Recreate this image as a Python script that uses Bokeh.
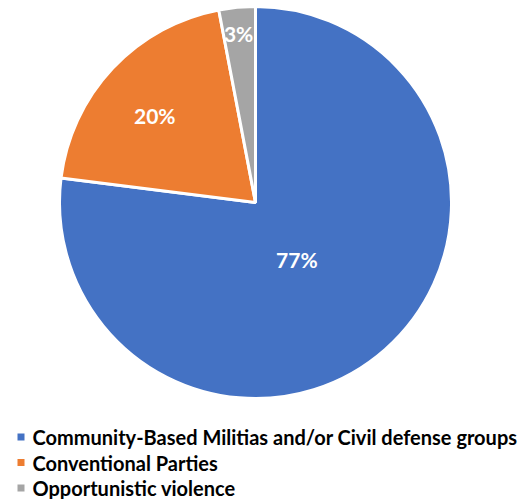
import math
from bokeh.plotting import figure
from bokeh.models import Range1d, ColumnDataSource
from bokeh.core.properties import value
from bokeh.embed import file_html
from bokeh.resources import INLINE

categories = ["Community-Based Militias and/or Civil defense groups",
              "Conventional Parties",
              "Opportunistic violence"]
shares = [77, 20, 3]
colors = ["#4472C4", "#ED7D31", "#A5A5A5"]

W, H = 524, 499
FONT = "Lato"

p = figure(width=W, height=H, output_backend="svg", toolbar_location=None,
           x_range=Range1d(0, W), y_range=Range1d(0, H), min_border=0)
p.axis.visible = False
p.grid.visible = False
p.outline_line_color = None
p.background_fill_color = "white"

cx, cy, r = 255, 297, 196
total = sum(shares)
starts, ends, mids = [], [], []
acc = 0.0
for s in shares:
    a0 = math.pi / 2 - 2 * math.pi * acc / total
    acc += s
    a1 = math.pi / 2 - 2 * math.pi * acc / total
    starts.append(a0)
    ends.append(a1)
    mids.append((a0 + a1) / 2)

src = ColumnDataSource(dict(start=starts, end=ends, color=colors))
p.wedge(x=cx, y=cy, radius=r, start_angle="start", end_angle="end",
        direction="clock", fill_color="color", line_color="white",
        line_width=3, source=src)

label_frac = [0.36, 0.68, 0.867]
label_dang = [-5.5, 2.3, 0.3]
lx = [cx + f * r * math.cos(m + math.radians(d)) for f, m, d in zip(label_frac, mids, label_dang)]
ly = [cy + f * r * math.sin(m + math.radians(d)) for f, m, d in zip(label_frac, mids, label_dang)]
p.text(x=lx, y=ly, text=[f"{s}%" for s in shares], text_color="white",
       text_font=value(FONT), text_font_style="bold", text_font_size="21px",
       text_align="center", text_baseline="middle")

leg_y = [H - 436.5, H - 462, H - 487.5]
p.scatter(x=[20.5] * 3, y=leg_y, marker="square", size=7, fill_color=colors,
          line_color=None)
p.text(x=[32] * 3, y=leg_y, text=categories, text_color="black",
       text_font=value(FONT), text_font_style="bold", text_font_size="20px",
       text_align="left", text_baseline="middle")

open("out.html", "w").write(file_html(p, INLINE))
